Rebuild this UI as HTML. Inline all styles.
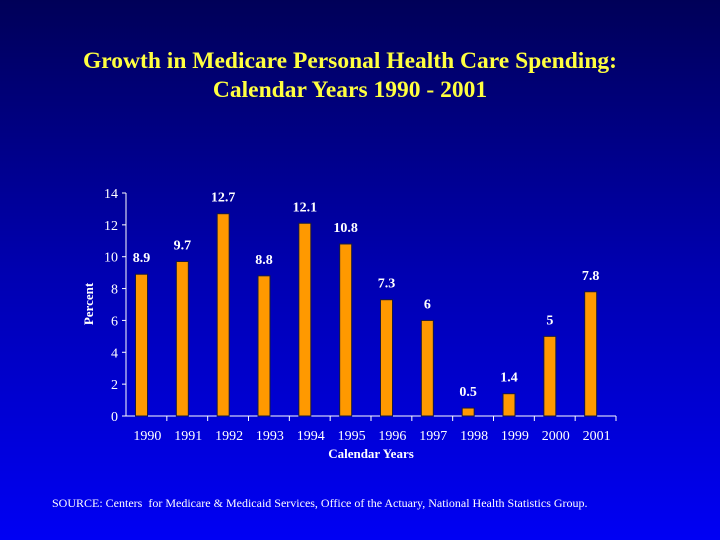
<!DOCTYPE html>
<html><head><meta charset="utf-8"><style>
html,body{margin:0;padding:0}
body{width:720px;height:540px;overflow:hidden;background:linear-gradient(to bottom,#000058 0%,#0000b0 50%,#0000f4 100%);font-family:"Liberation Serif",serif;position:relative}
.title{position:absolute;left:0;width:700px;top:47px;text-align:center;color:#ffff40;font-weight:bold;font-size:23.5px;line-height:29px}
.src{position:absolute;left:52px;top:496px;color:#fff;font-size:12px;white-space:nowrap}
svg{position:absolute;left:0;top:0}
</style></head><body>
<div class="title">Growth in Medicare Personal Health Care Spending:<br>Calendar Years 1990 - 2001</div>
<svg id="chart" width="720" height="540"></svg>
<div class="src">SOURCE: Centers&nbsp; for Medicare &amp; Medicaid Services, Office of the Actuary, National Health Statistics Group.</div>
<script>
const categories=["1990","1991","1992","1993","1994","1995","1996","1997","1998","1999","2000","2001"];
const values=[8.9,9.7,12.7,8.8,12.1,10.8,7.3,6,0.5,1.4,5,7.8];
const valueLabels=["8.9","9.7","12.7","8.8","12.1","10.8","7.3","6","0.5","1.4","5","7.8"];
const yTicks=[0,2,4,6,8,10,12,14];
const svg=document.getElementById('chart');
const NS='http://www.w3.org/2000/svg';
const x0=126,x1=616,y0=416,y1=193,yMax=14;
const step=(x1-x0)/categories.length;
const y=v=>y0-(v/yMax)*(y0-y1);
function mk(tag,attrs,txt){const e=document.createElementNS(NS,tag);for(const k in attrs)e.setAttribute(k,attrs[k]);if(txt!==undefined)e.textContent=txt;svg.appendChild(e);return e;}
let e;
e=mk('line',{x1:x0,y1:y1,x2:x0,y2:y0,stroke:'#fff','stroke-width':1});


e=mk('line',{x1:x0,y1:y0,x2:x1,y2:y0,stroke:'#fff','stroke-width':1});


yTicks.forEach(t=>{
 e=mk('line',{x1:x0-4,y1:y(t),x2:x0,y2:y(t),stroke:'#fff'});
 
 
 e=mk('text',{x:x0-8,y:y(t)+5,fill:'#fff','font-size':14,'text-anchor':'end','font-family':'Liberation Serif'},t);
 
 
});
categories.forEach((c,i)=>{
 const bx=x0+step*i;
 e=mk('line',{x1:bx+step,y1:y0,x2:bx+step,y2:y0+5,stroke:'#fff'});
 
 
 const bl=bx+9.5,bw=12;
 e=mk('rect',{x:bl,y:y(values[i]),width:bw,height:y0-y(values[i]),fill:'#ff9900',stroke:'#1a1a40','stroke-width':1});
 
 
 e=mk('text',{x:bl+bw/2,y:y(values[i])-12,fill:'#fff','font-size':14,'font-weight':'bold','text-anchor':'middle','font-family':'Liberation Serif'},valueLabels[i]);
 
 
 e=mk('text',{x:bx+step/2+1,y:y0+24,fill:'#fff','font-size':14,'text-anchor':'middle','font-family':'Liberation Serif'},c);
 
 
});
e=mk('text',{x:371,y:458,fill:'#fff','font-size':13,'font-weight':'bold','text-anchor':'middle','font-family':'Liberation Serif'},'Calendar Years');


e=mk('text',{x:0,y:0,fill:'#fff','font-size':13,'font-weight':'bold','text-anchor':'middle','font-family':'Liberation Serif',transform:'translate(93,304) rotate(-90)'},'Percent');


</script>
</body></html>
